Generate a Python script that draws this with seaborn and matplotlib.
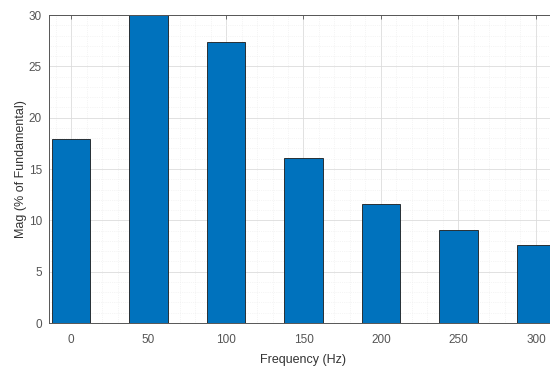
import matplotlib
matplotlib.use("Agg")
from matplotlib import pyplot as plt
from matplotlib.ticker import MultipleLocator
import seaborn as sns
import pandas as pd

sns.set_style("white")
plt.rcParams['font.family'] = ['Liberation Sans', 'DejaVu Sans']

# データ
freq = [0, 50, 100, 150, 200, 250, 300]
mag = [17.9, 30.0, 27.4, 16.1, 11.6, 9.05, 7.55]
xticks = [0, 50, 100, 150, 200, 250, 300]
yticks = [0, 5, 10, 15, 20, 25, 30]

df = pd.DataFrame({"freq": freq, "mag": mag})

fig = plt.figure(figsize=(5.5, 3.67), dpi=100)
ax = fig.add_axes([49/550, 44/367, (558-49)/550, (323-15)/367])

sns.barplot(data=df, x="freq", y="mag", native_scale=True, width=0.5,
            color="#0072BD", saturation=1, edgecolor="#1a1a1a", linewidth=0.6, ax=ax)

ax.set_xlim(-14.2, 314.2)
ax.set_ylim(0, 30)
ax.set_xticks(xticks)
ax.set_yticks(yticks)
ax.xaxis.set_minor_locator(MultipleLocator(10))
ax.yaxis.set_minor_locator(MultipleLocator(1))
ax.set_axisbelow(True)
ax.grid(which="major", color="#dcdcdc", linewidth=0.6)
ax.grid(which="minor", color="#ececec", linewidth=0.5, linestyle=":")
ax.tick_params(which="both", direction="in", top=True, right=True, colors="#555555",
               labelsize=8.5, length=3, width=0.6)
ax.tick_params(axis="x", pad=8)
ax.tick_params(axis="y", pad=5)
ax.tick_params(which="minor", length=0)
for s in ax.spines.values():
    s.set_color("#555555")
    s.set_linewidth(0.7)

ax.set_xlabel("Frequency (Hz)", fontsize=9, color="#333333", labelpad=6)
ax.set_ylabel("Mag (% of Fundamental)", fontsize=9, color="#333333", labelpad=1)

plt.savefig("out.png", dpi=100)
